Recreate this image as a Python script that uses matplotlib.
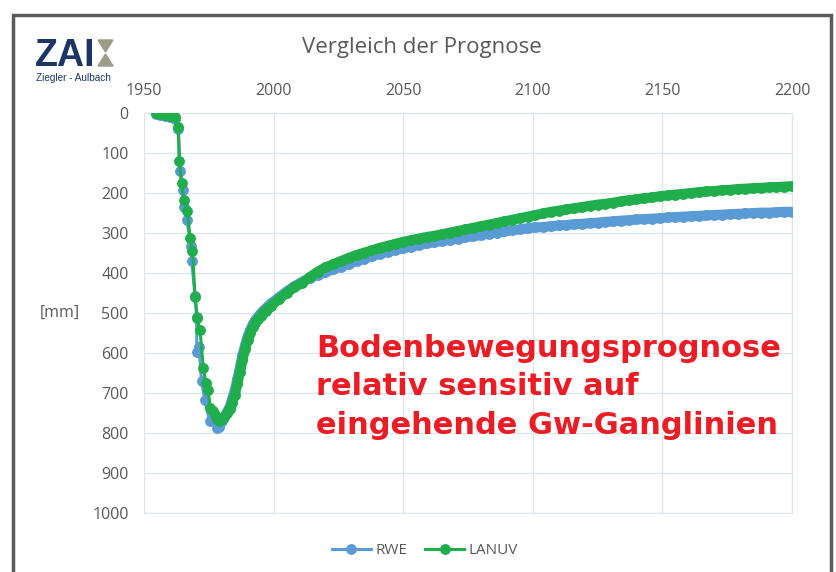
import matplotlib.pyplot as plt
from matplotlib.patches import Rectangle, Polygon

# Messpunkte (Vergangenheit) und Prognose, Senkung in mm
green_early_years = [1954.5, 1956, 1958, 1960, 1962, 1963.2, 1963.6, 1964.5, 1965.4, 1966.7,
                     1967.8, 1968.7, 1969.7, 1970.6, 1971.6, 1972.9, 1973.9, 1974.8, 1975.5,
                     1976.5, 1977.4, 1978.2]
green_early = [0, 3, 5, 7, 9, 34, 121, 176, 218, 246,
               313, 346, 459, 513, 543, 638, 676, 693, 738,
               745, 755, 765]

blue_early_years = [1954.5, 1956, 1958, 1960, 1962, 1963.3, 1963.9, 1965.2, 1965.4, 1966.5,
                    1968.2, 1968.4, 1969.7, 1970.3, 1970.4, 1971.2, 1972.2, 1973.5, 1975.3,
                    1978.3]
blue_early = [2, 5, 8, 10, 14, 40, 146, 193, 234, 268,
              333, 371, 458, 510, 598, 585, 671, 718, 770,
              788]

tail_years = list(range(1979, 2000)) + list(range(2002, 2201, 3))

green_tail = [771, 766, 759, 751, 741, 726, 704, 678, 648, 618, 590, 567, 549, 535, 524, 515,
              507, 500, 494, 488, 482,
              466, 450, 436, 425, 410, 397, 386, 378, 370, 362, 355, 349, 343, 337, 332, 327,
              322, 318, 314, 310, 307, 303, 299, 295, 291, 287, 283, 279, 275, 271, 267, 263,
              259, 255, 251, 247, 244, 241, 238, 235, 232, 229, 227, 224, 221, 218, 216, 213,
              211, 208, 206, 204, 202, 200, 198, 196, 195, 193, 192, 190, 189, 188, 187, 186,
              185, 184, 183]

blue_tail = [785, 770, 760, 748, 735, 716, 693, 665, 635, 605, 580, 558, 542, 528, 517, 509,
             501, 494, 488, 482, 476,
             461, 446, 433, 422, 412, 405, 398, 391, 384, 377, 370, 364, 358, 352, 347, 342,
             338, 334, 330, 326, 323, 320, 317, 314, 311, 308, 305, 302, 299, 296, 293, 291,
             288, 286, 285, 283, 281, 280, 278, 277, 275, 274, 272, 271, 269, 268, 266, 265,
             264, 263, 261, 260, 259, 258, 257, 256, 255, 254, 253, 252, 251, 250, 249, 249,
             248, 247, 247]

x_ticks = [1950, 2000, 2050, 2100, 2150, 2200]
y_ticks = list(range(0, 1001, 100))

note_lines = ['Bodenbewegungsprognose', 'relativ sensitiv auf', 'eingehende Gw-Ganglinien']

BLUE = '#5b9bd5'
GREEN = '#1fae4b'
TXT = '#595959'

plt.rcParams['font.family'] = ['Open Sans', 'DejaVu Sans']

W, H = 836, 572
fig = plt.figure(figsize=(W / 100, H / 100), dpi=100)
ax = fig.add_axes([144/W, 59/H, 648/W, 400/H])

for yrs, early, tail, col, lab, z in [(blue_early_years, blue_early, blue_tail, BLUE, 'RWE', 3),
                                       (green_early_years, green_early, green_tail, GREEN, 'LANUV', 5)]:
    ax.plot(yrs + tail_years, early + tail, '-o', color=col, lw=2.2, ms=6.8, label=lab, zorder=z)
    # dichte Prognosepunkte -> durchgehendes Band
    ax.plot(tail_years, tail, '-', color=col, lw=7.2, solid_capstyle='round', zorder=z - 1)

ax.set_xlim(1950, 2200)
ax.set_ylim(1000, 0)
ax.set_xticks(x_ticks)
ax.set_yticks(y_ticks)
ax.xaxis.tick_top()
ax.tick_params(length=0, labelsize=11.5, labelcolor=TXT)
ax.tick_params(axis='x', pad=10)
ax.tick_params(axis='y', pad=11)
ax.grid(True, color='#dde6ee', lw=1)
for s in ax.spines.values():
    s.set_color('#dde6ee')

fig.text(40/W, 1 - 313/H, '[mm]', fontsize=11.5, color=TXT, ha='left', va='center')
fig.text(422/W, 1 - 48/H, 'Vergleich der Prognose', fontsize=16, color=TXT,
         ha='center', va='center')

for line, yb in zip(note_lines, [357, 395, 434]):
    fig.text(316/W, 1 - yb/H, line, fontsize=22, color='#ec1c24', fontweight='bold',
             family='DejaVu Sans', ha='left', va='baseline')

fig.legend(loc='center', bbox_to_anchor=(425/W, 1 - 551/H), ncol=2, frameon=False,
           fontsize=11, labelcolor=TXT, handlelength=2.5, columnspacing=1.2,
           handletextpad=0.3)

# Rahmen
fig.patches.append(Rectangle((13/W, -0.1), 818/W, 1.1 - 15/H, transform=fig.transFigure,
                             fill=False, ec='#5a5a5a', lw=2.5))

# Logo
fig.text(35/W, 1 - 66/H, 'ZAI', fontsize=27, fontweight='bold', color='#1c3567',
         family='Liberation Sans', ha='left', va='baseline')
tri = '#9c9b8a'
fig.patches.append(Polygon([(98/W, 1 - 40/H), (113/W, 1 - 40/H), (105.5/W, 1 - 52/H)],
                           closed=True, transform=fig.transFigure, color=tri))
fig.patches.append(Polygon([(98/W, 1 - 66/H), (113/W, 1 - 66/H), (105.5/W, 1 - 54/H)],
                           closed=True, transform=fig.transFigure, color=tri))
fig.text(36/W, 1 - 78/H, 'Ziegler - Aulbach', fontsize=7.2, color='#1c3567',
         family='Liberation Sans', ha='left', va='center')

fig.savefig('out.png', dpi=100)
